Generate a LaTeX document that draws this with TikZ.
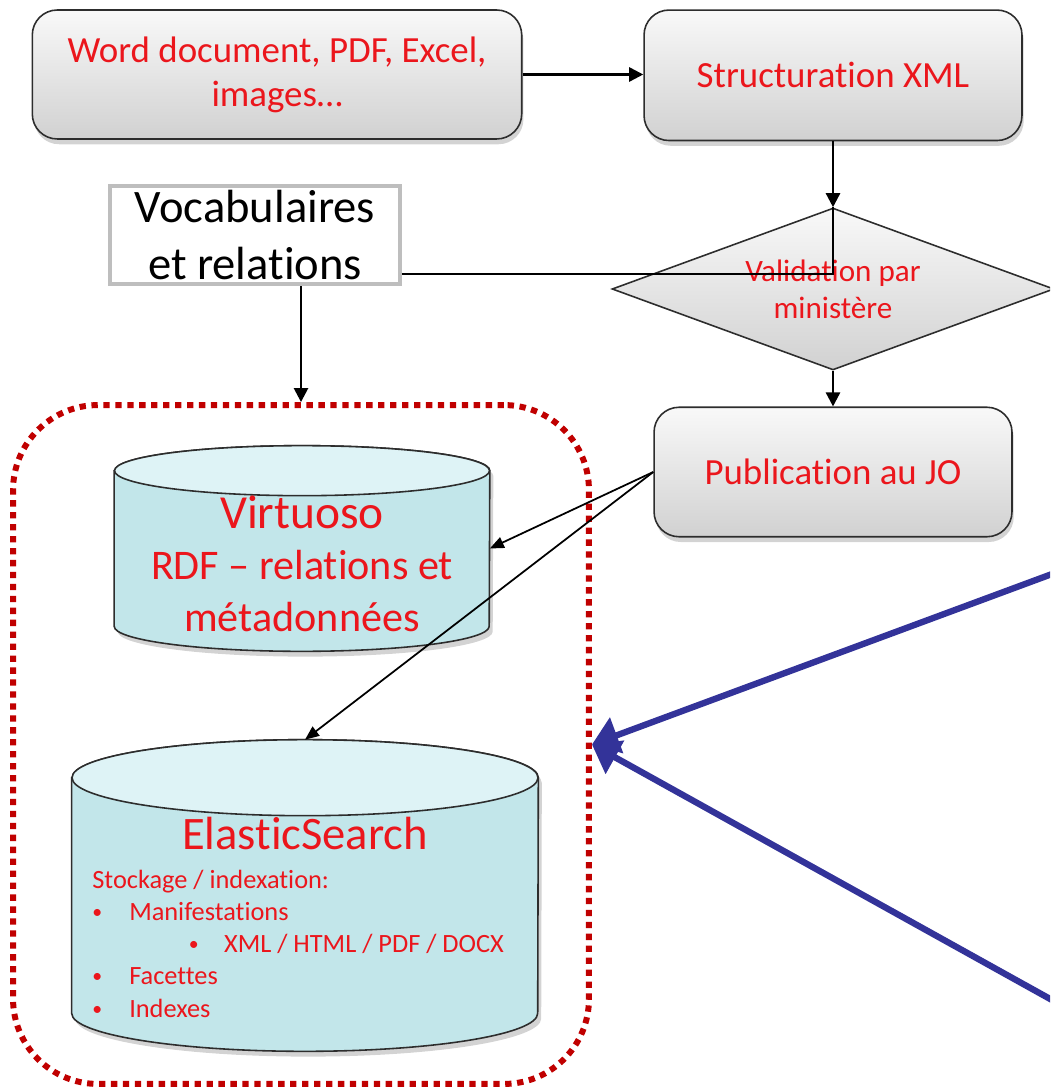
\documentclass[tikz,border=0pt]{standalone}
\usepackage{fontspec}
\setmainfont{Carlito}[Ligatures=NoCommon]
\usetikzlibrary{positioning,shapes.geometric,arrows.meta,calc,shadows}

\definecolor{txtred}{RGB}{235,22,28}
\definecolor{dotred}{RGB}{192,0,0}
\definecolor{arrowblue}{RGB}{51,51,153}
\definecolor{cylbody}{RGB}{194,230,234}
\definecolor{cyltop}{RGB}{222,243,246}
\definecolor{vocgray}{RGB}{190,190,190}
\definecolor{boxline}{RGB}{45,45,45}

\newcommand{\esbul}{\raisebox{0.15ex}{\scalebox{0.75}{•}}}

\begin{document}
\begin{tikzpicture}[x=0.02cm, y=0.02cm,
    procbox/.style={rectangle, rounded corners=0.5cm, draw=boxline, line width=0.9pt,
        top color=gray!5, bottom color=gray!36, text=txtred, align=center,
        font=\fontsize{21}{25}\selectfont,
        drop shadow={opacity=0.35, shadow xshift=1pt, shadow yshift=-3pt}},
    decision/.style={diamond, aspect=2.73, inner sep=0pt, minimum width=8.84cm, minimum height=3.24cm,
        draw=boxline, line width=0.9pt, top color=gray!5, bottom color=gray!36,
        text=txtred, align=center, font=\fontsize{17.7}{21}\selectfont},
    vocbox/.style={rectangle, draw=vocgray, line width=2.3pt, fill=white, inner sep=0pt,
        minimum width=5.8cm, minimum height=1.96cm},
    storebox/.style={rectangle, draw=dotred, line width=3.4pt, dash pattern=on 3.6pt off 3.2pt,
        rounded corners=1.7cm, minimum width=11.52cm, minimum height=13.58cm},
    dbarea/.style={rectangle, inner sep=0pt},
    cylside/.style={draw=boxline, line width=0.9pt, fill=cylbody,
        drop shadow={opacity=0.35, shadow xshift=2pt, shadow yshift=-3pt}},
    cyllid/.style={draw=boxline, line width=0.9pt, fill=cyltop},
    dbtext/.style={text=txtred},
    arrow/.style={-{Triangle[length=8pt,width=8pt]}, line width=1.4pt},
    link/.style={line width=1.4pt},
    thinarrow/.style={-{Triangle[length=8pt,width=6.5pt]}, line width=1pt},
    bluearrow/.style={-{Triangle[length=15pt,width=21pt]}, line width=3.6pt, draw=arrowblue}]

    \clip (0,0) rectangle (1050,-1087);

    % Chaine de production
    \node[procbox, minimum width=9.79cm, minimum height=2.58cm] (sources) at (277,-74.5) {Word document, PDF, Excel,\\images…};
    \node[procbox, minimum width=7.56cm, minimum height=2.61cm] (struct) at (833,-75.3) {Structuration XML};
    \node[decision] (valid) at (833,-289) {Validation par\\ministère};
    \node[procbox, minimum width=7.16cm, minimum height=2.59cm] (publi) at (833,-472) {Publication au JO};

    % Vocabulaires
    \node[vocbox, label={[align=center, font=\fontsize{26.5}{33}\selectfont]center:Vocabulaires\\et relations}] (vocab) at (255,-235) {};

    % Stockage
    \node[storebox] (store) at (301,-744.5) {};

    % Virtuoso
    \node[dbarea, minimum width=7.5cm, minimum height=4.1cm] (virt) at (302,-548.5) {};
    \path[cylside] ($(virt.north west)+(0,-25)$) -- ($(virt.south west)+(0,25)$)
        arc[start angle=180, end angle=360, x radius=187.5, y radius=25]
        -- ($(virt.north east)+(0,-25)$)
        arc[start angle=0, end angle=180, x radius=187.5, y radius=25] -- cycle;
    \path[cyllid] ($(virt.north)+(0,-25)$) ellipse[x radius=187.5, y radius=25];
    \node[dbtext, anchor=base, font=\fontsize{27}{29}\selectfont] (virtname) at (302,-528) {Virtuoso};
    \node[dbtext, anchor=base, align=center, font=\fontsize{24}{29.2}\selectfont] (virtdesc) at (302,-631) {RDF – relations et\\métadonnées};

    % ElasticSearch
    \node[dbarea, minimum width=9.32cm, minimum height=6.22cm] (elastic) at (305,-895.5) {};
    \path[cylside] ($(elastic.north west)+(0,-38)$) -- ($(elastic.south west)+(0,38)$)
        arc[start angle=180, end angle=360, x radius=233, y radius=38]
        -- ($(elastic.north east)+(0,-38)$)
        arc[start angle=0, end angle=180, x radius=233, y radius=38] -- cycle;
    \path[cyllid] ($(elastic.north)+(0,-38)$) ellipse[x radius=233, y radius=38];
    \node[dbtext, anchor=base, font=\fontsize{26.5}{30}\selectfont] (esname) at (305,-849.5) {ElasticSearch};
    \node[dbtext, anchor=base west, align=left, inner sep=0pt, font=\fontsize{15}{18.3}\selectfont] (eslist) at (92,-1017) {Stockage / indexation:\\
        \makebox[21pt][l]{\esbul}Manifestations\\
        \hspace*{55pt}\makebox[20pt][l]{\esbul}XML / HTML / PDF / DOCX\\
        \makebox[21pt][l]{\esbul}Facettes\\
        \makebox[21pt][l]{\esbul}Indexes};

    % Liens
    \coordinate (vjoin) at (833,-274);
    \coordinate (blueA) at (1052,-574);
    \coordinate (blueB) at (1052,-1000);

    \draw[arrow] (sources.east) -- (sources.east -| struct.west);
    \draw[arrow] (struct) -- (valid);
    \draw[link] (vocab.east |- vjoin) -- (vjoin) -- (valid.north);
    \draw[arrow] (valid) -- (publi);
    \draw[arrow] (vocab.south -| store.north) -- (store.north);
    \draw[thinarrow] (publi.west) -- (virt.east);
    \draw[thinarrow] (publi.west) -- (elastic.north);
    \draw[bluearrow] (blueA) -- (store.east);
    \draw[bluearrow] (blueB) -- (store.east);
\end{tikzpicture}
\end{document}
